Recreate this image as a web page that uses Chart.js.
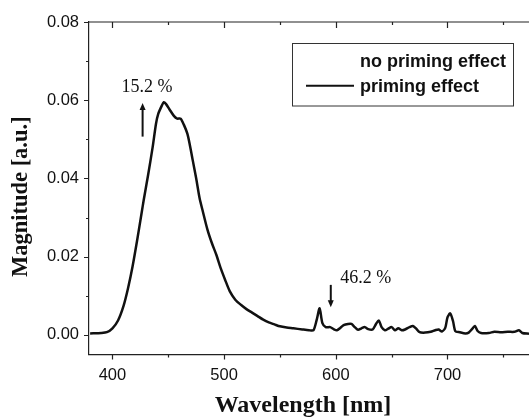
<!DOCTYPE html>
<html>
<head>
<meta charset="utf-8">
<script src="https://cdn.jsdelivr.net/npm/chart.js@4.4.1/dist/chart.umd.min.js"></script>
<style>
  html, body { margin: 0; padding: 0; background: #fff; overflow: hidden; }
  #wrap { width: 529px; height: 418px; }
</style>
</head>
<body>
<div id="wrap"><canvas id="chart" width="529" height="418"></canvas></div>
<script>
// spectrum: wavelength [nm] -> magnitude [a.u.]
const wavelength = [
  380, 390, 395, 400, 405, 410, 414, 418, 422, 426, 428, 432, 436, 439, 441, 444, 446, 448,
  451, 455, 458, 461, 464, 467, 469, 472, 475, 478, 481, 485, 489, 493, 497, 501, 505, 510,
  515, 520, 525, 530, 535, 540, 545, 550, 556, 562, 570, 576, 580, 583, 585.5, 588, 591, 595,
  598, 601, 604, 607, 611, 614, 617, 620, 623, 626, 629, 633, 636, 638.5, 641, 644, 647, 650,
  653, 656, 659, 662, 666, 669, 672, 675, 680, 685, 689, 692, 695, 698, 700, 702.5, 705, 707,
  711, 716, 719, 722, 724.5, 727, 730, 737, 742, 748, 754, 760, 764, 767, 773
];
const magnitude = [
  0.0004, 0.0005, 0.0007, 0.0017, 0.0037, 0.0075, 0.0120, 0.0175, 0.0240, 0.0310, 0.0345, 0.0410,
  0.0480, 0.0540, 0.0565, 0.0585, 0.0595, 0.0590, 0.0577, 0.0560, 0.0553, 0.0553, 0.0537, 0.0515,
  0.0490, 0.0445, 0.0400, 0.0350, 0.0315, 0.0270, 0.0235, 0.0205, 0.0170, 0.0140, 0.0112, 0.0090,
  0.0077, 0.0066, 0.0057, 0.0048, 0.0039, 0.0032, 0.0027, 0.0022, 0.0019, 0.0017, 0.0014, 0.0012,
  0.0012, 0.0040, 0.0068, 0.0030, 0.0020, 0.0020, 0.0015, 0.0012, 0.0018, 0.0025, 0.0028, 0.0028,
  0.0020, 0.0013, 0.0017, 0.0020, 0.0015, 0.0014, 0.0028, 0.0037, 0.0020, 0.0012, 0.0016, 0.0020,
  0.0012, 0.0017, 0.0012, 0.0014, 0.0020, 0.0023, 0.0016, 0.0007, 0.0006, 0.0008, 0.0012, 0.0014,
  0.0009, 0.0018, 0.0045, 0.0055, 0.0035, 0.0010, 0.0007, 0.0004, 0.0006, 0.0015, 0.0023, 0.0010,
  0.0005, 0.0005, 0.0008, 0.0007, 0.0008, 0.0008, 0.0012, 0.0005, 0.0003
];

const xTicks = [400, 450, 500, 550, 600, 650, 700, 750];
const yTicks = [0, 0.01, 0.02, 0.03, 0.04, 0.05, 0.06, 0.07, 0.08];
const seriesLabels = ['no priming effect', 'priming effect'];

// percentage notes with their arrows (data coordinates)
const notes = [
  { text: '15.2 %', x: 408, y: 0.0622, arrowX: 427, from: 0.0507, to: 0.0593 },
  { text: '46.2 %', x: 604, y: 0.0132, arrowX: 595.5, from: 0.0128, to: 0.0071 }
];

const INK = '#111';

// frame, minor ticks, notes and the boxed legend
const decor = {
  id: 'decor',
  afterDraw(chart) {
    const ctx = chart.ctx;
    const { top, left, right, bottom } = chart.chartArea;
    const xs = chart.scales.x, ys = chart.scales.y;
    ctx.save();
    ctx.strokeStyle = '#222';
    ctx.lineWidth = 1.2;
    ctx.beginPath();
    ctx.moveTo(left, top);
    ctx.lineTo(right, top);
    xTicks.forEach(v => {
      const px = Math.round(xs.getPixelForValue(v)) + 0.5;
      const major = v % 100 === 0;
      ctx.moveTo(px, top);
      ctx.lineTo(px, top + (major ? 6 : 3));
      ctx.moveTo(px, bottom);
      ctx.lineTo(px, bottom + (major ? 5 : 3));
    });
    yTicks.forEach(v => {
      const py = Math.round(ys.getPixelForValue(v)) + 0.5;
      const major = Math.round(v * 100) % 2 === 0;
      ctx.moveTo(left, py);
      ctx.lineTo(left - (major ? 5 : 3), py);
    });
    ctx.stroke();

    // notes
    ctx.fillStyle = INK;
    ctx.strokeStyle = INK;
    ctx.font = '18px "Liberation Serif"';
    ctx.textBaseline = 'alphabetic';
    notes.forEach(n => {
      ctx.fillText(n.text, xs.getPixelForValue(n.x), ys.getPixelForValue(n.y));
      const ax = xs.getPixelForValue(n.arrowX);
      const y0 = ys.getPixelForValue(n.from);
      const y1 = ys.getPixelForValue(n.to);
      const dir = y1 < y0 ? 1 : -1;
      ctx.lineWidth = 2;
      ctx.beginPath();
      ctx.moveTo(ax, y0);
      ctx.lineTo(ax, y1 + dir * 5);
      ctx.stroke();
      ctx.beginPath();
      ctx.moveTo(ax, y1);
      ctx.lineTo(ax - 3, y1 + dir * 7);
      ctx.lineTo(ax + 3, y1 + dir * 7);
      ctx.closePath();
      ctx.fill();
    });

    // legend box
    ctx.lineWidth = 1;
    ctx.strokeStyle = '#333';
    ctx.strokeRect(292.5, 43.5, 221, 62.5);
    ctx.font = 'bold 18px "Liberation Sans"';
    const rows = [66.7, 92.3];
    chart.data.datasets.forEach((ds, i) => {
      ctx.fillStyle = INK;
      ctx.fillText(ds.label, 360, rows[i]);
      if (ds.borderColor !== 'transparent') {
        ctx.strokeStyle = ds.borderColor;
        ctx.lineWidth = 2;
        ctx.beginPath();
        ctx.moveTo(306, rows[i] - 6.5);
        ctx.lineTo(354, rows[i] - 6.5);
        ctx.stroke();
      }
    });
    ctx.restore();
  }
};

const points = wavelength.map((w, i) => ({ x: w, y: magnitude[i] }));

new Chart(document.getElementById('chart'), {
  type: 'line',
  data: {
    datasets: [
      {
        label: seriesLabels[0],
        data: [],
        borderColor: 'transparent'
      },
      {
        label: seriesLabels[1],
        data: points,
        borderColor: INK,
        borderWidth: 2.5,
        pointRadius: 0,
        tension: 0.25,
        fill: false
      }
    ]
  },
  options: {
    responsive: false,
    animation: false,
    layout: { padding: { top: 22, left: 0, right: 0, bottom: 0 } },
    plugins: {
      legend: { display: false },
      tooltip: { enabled: false }
    },
    scales: {
      x: {
        type: 'linear',
        min: 379,
        max: 773,
        afterBuildTicks: s => { s.ticks = xTicks.map(v => ({ value: v })); },
        afterFit: s => { s.height = 63.5; },
        grid: { display: false, drawTicks: false },
        border: { display: true, color: '#222', width: 1.2 },
        ticks: {
          padding: 11,
          color: INK,
          font: { family: 'Liberation Sans', size: 16.5 },
          maxRotation: 0,
          autoSkip: false,
          callback: v => (v % 100 === 0 ? String(v) : '')
        },
        title: {
          display: true,
          text: 'Wavelength [nm]  ',
          color: INK,
          padding: { top: 0, bottom: -2 },
          font: { family: 'Liberation Serif', size: 24, weight: 'bold' }
        }
      },
      y: {
        min: -0.005,
        max: 0.08,
        afterBuildTicks: s => { s.ticks = yTicks.map(v => ({ value: v })); },
        afterFit: s => { s.width = 89; },
        grid: { display: false, drawTicks: false },
        border: { display: true, color: '#222', width: 1.2 },
        ticks: {
          padding: 10,
          color: INK,
          font: { family: 'Liberation Sans', size: 16.5 },
          autoSkip: false,
          callback: v => (Math.round(v * 100) % 2 === 0 ? v.toFixed(2) : '')
        },
        title: {
          display: true,
          text: 'Magnitude [a.u.]   ',
          color: INK,
          padding: { top: 8, bottom: 0 },
          font: { family: 'Liberation Serif', size: 22.5, weight: 'bold' }
        }
      }
    }
  },
  plugins: [decor]
});
</script>
</body>
</html>
